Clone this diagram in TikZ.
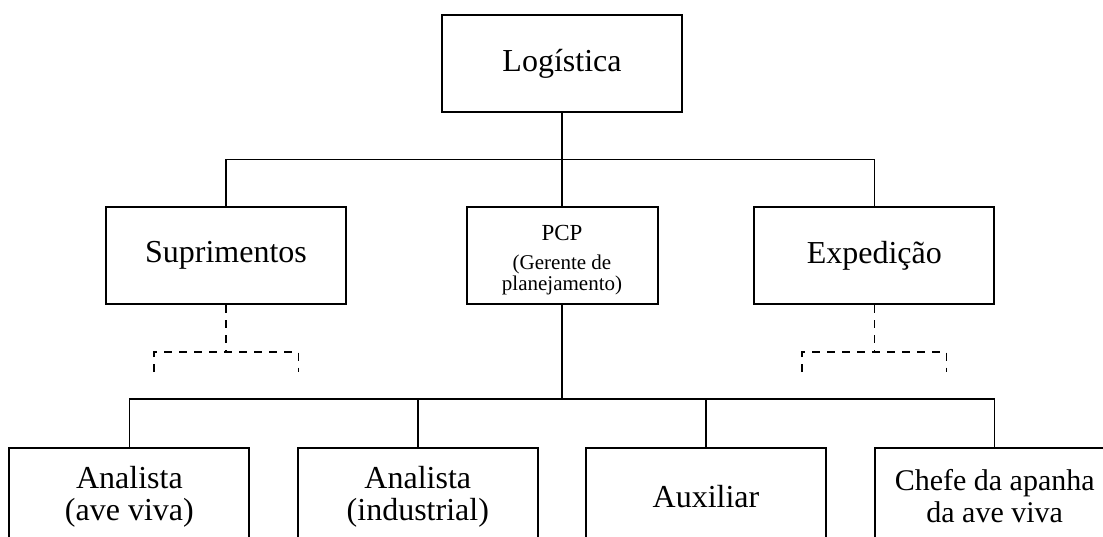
\documentclass[tikz,border=0pt]{standalone}
\usepackage{fontspec}
\setmainfont{Liberation Serif}
\begin{document}
\begin{tikzpicture}[x=1pt,y=-1pt,
  unit/.style={draw, line width=2pt, minimum width=240pt, minimum height=97pt,
               inner sep=0pt, align=center},
  big/.style={font=\fontsize{32}{32}\selectfont},
  mid/.style={font=\fontsize{30}{32}\selectfont},
  link/.style={line width=1.4pt},
  vacant/.style={line width=1.5pt, dash pattern=on 8pt off 7pt}]
\clip (0,0) rectangle (1103,536);

% top level
\node[unit,big] (log) at (562,63.75) {Logística};

% second level
\node[unit,big] (sup) at (226,255.5) {Suprimentos};
\node[unit,minimum width=191pt] (pcp) at (562,255.5) {};
\node[anchor=base,font=\fontsize{23}{23}\selectfont] (pcpa) at (562,240) {PCP};
\node[anchor=base,font=\fontsize{21}{21}\selectfont] (pcpb) at (562,269.5) {(Gerente de};
\node[anchor=base,font=\fontsize{21}{21}\selectfont] (pcpc) at (562,290) {planejamento)};
\node[unit,big] (exp) at (874.3,255.5) {Expedição};

% third level
\node[unit,big] (an1) at (129.4,496.5) {Analista\\(ave viva)};
\node[unit,big] (an2) at (417.8,496.5) {Analista\\(industrial)};
\node[unit,big] (aux) at (706,496.5) {Auxiliar};
\node[unit,mid] (che) at (994.7,496.5) {Chefe da apanha\\da ave viva};

% solid connectors
\coordinate (topbar) at (562,159.3);
\coordinate (lowbar) at (562,399);
\draw[link] (log.south) -- (pcp.north);
\draw[link] (sup.north) |- (topbar) -| (exp.north);
\draw[link] (pcp.south) -- (lowbar);
\draw[link] (an1.north) |- (lowbar) -| (che.north);
\draw[link] (an2.north) -- (an2.north |- lowbar);
\draw[link] (aux.north) -- (aux.north |- lowbar);

% dashed open branches
\coordinate (supfork) at (226,352);
\coordinate (supl) at (154,372);
\coordinate (supr) at (298.3,372);
\draw[vacant] (sup.south) -- (supfork);
\draw[vacant] (supl) |- (supfork) -| (supr);

\coordinate (expfork) at (874.3,352);
\coordinate (expl) at (802,372);
\coordinate (expr) at (946.5,372);
\draw[vacant] (exp.south) -- (expfork);
\draw[vacant] (expl) |- (expfork) -| (expr);
\end{tikzpicture}
\end{document}
